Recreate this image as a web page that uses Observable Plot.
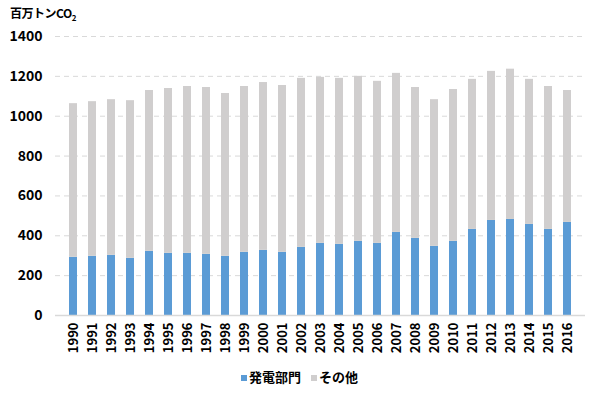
<!DOCTYPE html>
<html><head><meta charset="utf-8">
<script src="https://cdn.jsdelivr.net/npm/d3@7"></script>
<script src="https://cdn.jsdelivr.net/npm/@observablehq/plot@0.6"></script>
<style>
body{margin:0;background:#fff;font-family:"Noto Sans CJK JP",sans-serif;}
#wrap{position:relative;width:599px;height:395px;}
#title{position:absolute;left:10px;top:4px;font-size:12px;font-weight:bold;color:#000;letter-spacing:-0.5px;}
#title sub{font-size:8px;}
#legend{position:absolute;left:0;width:599px;top:367px;text-align:center;font-size:13px;font-weight:bold;color:#000;}
#legend span.sw{display:inline-block;width:6px;height:6px;margin-right:2px;vertical-align:middle;}
#legend span.item{margin:0 5px;}
#chart{position:absolute;left:0;top:0;}
</style></head>
<body><div id="wrap"><div id="chart"></div><div id="title">百万トンCO<sub>2</sub></div><div id="legend"></div></div>
<script>
const years = ["1990","1991","1992","1993","1994","1995","1996","1997","1998","1999","2000","2001","2002","2003","2004","2005","2006","2007","2008","2009","2010","2011","2012","2013","2014","2015","2016"];
const power = [292,297,302,287,322,312,312,307,297,317,327,317,342,362,357,372,362,417,387,347,372,432,477,482,457,432,467];
const other = [771,776,781,791,807,827,837,837,817,832,842,837,848,833,833,828,813,798,757,736,762,753,748,754,728,717,662];
const seriesNames = ["発電部門","その他"];
const colors = ["#5B9BD5","#D0CECE"];
const yTicks = [0,200,400,600,800,1000,1200,1400];

const data = [];
years.forEach((y,i)=>{
  data.push({year:y, series:seriesNames[0], value:power[i]});
  data.push({year:y, series:seriesNames[1], value:other[i]});
});

const chart = Plot.plot({
  width:599, height:395,
  marginTop:36, marginBottom:80, marginLeft:55, marginRight:14,
  style:{fontFamily:'"Noto Sans CJK JP",sans-serif', fontWeight:"bold", color:"#000"},
  x:{type:"band", domain:years, padding:0.59, label:null, tickSize:0, tickPadding:7, tickRotate:-90},
  y:{domain:[0,1400], ticks:yTicks, tickFormat:d=>String(d), label:null, tickSize:0, tickPadding:13},
  color:{domain:seriesNames, range:colors},
  marks:[
    Plot.ruleY(yTicks.filter(d=>d>0), {stroke:"#d9d9d9", strokeWidth:1, strokeDasharray:"5,4", strokeOpacity:1}),
    Plot.barY(data, {x:"year", y:"value", fill:"series", order:seriesNames}),
    Plot.ruleY([0], {stroke:"#d9d9d9", strokeWidth:1.5, strokeOpacity:1})
  ]
});
chart.querySelectorAll('[aria-label="y-axis tick label"] text').forEach(t=>t.setAttribute("font-size","14"));
chart.querySelectorAll('[aria-label="x-axis tick label"] text').forEach(t=>t.setAttribute("font-size","13"));
document.getElementById("chart").appendChild(chart);

const lg = document.getElementById("legend");
seriesNames.forEach((s,i)=>{
  const it = document.createElement("span"); it.className="item";
  const sw = document.createElement("span"); sw.className="sw"; sw.style.background=colors[i];
  it.appendChild(sw); it.appendChild(document.createTextNode(s));
  lg.appendChild(it);
});
</script></body></html>
